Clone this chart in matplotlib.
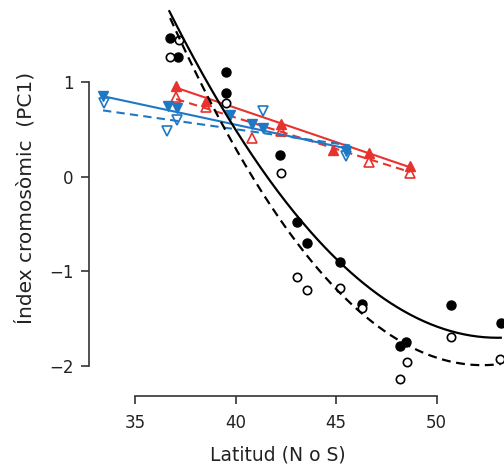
import numpy as np
from matplotlib import pyplot as plt

plt.rcParams["font.family"] = ["DejaVu Sans"]

# 黑色圆点（实心 / 空心）
black_filled_lat = [36.74, 37.14, 39.53, 39.53, 42.2, 43.06, 43.56, 45.2, 46.3, 48.2, 48.5, 50.7, 53.2]
black_filled_val = [1.46, 1.26, 1.11, 0.88, 0.23, -0.48, -0.70, -0.90, -1.34, -1.79, -1.75, -1.35, -1.54]
black_open_lat = [36.71, 37.19, 39.53, 42.25, 43.04, 43.57, 45.2, 46.31, 48.52, 48.18, 50.71, 53.16]
black_open_val = [1.26, 1.44, 0.78, 0.04, -1.06, -1.20, -1.17, -1.39, -1.96, -2.14, -1.69, -1.92]

# 黑色拟合曲线上读出的点
black_solid_lat = [36.7, 42.38, 43.04, 45.2, 48.18, 52.3, 53.2]
black_solid_val = [1.74, -0.21, -0.42, -0.88, -1.44, -1.69, -1.69]
black_dash_lat = [36.74, 40.87, 41.37, 43.2, 46.2, 49.0, 52.0, 53.2]
black_dash_val = [1.69, -0.03, -0.21, -0.74, -1.37, -1.85, -2.0, -1.97]

# 红色三角
red_filled_lat = [37.04, 38.53, 42.26, 44.83, 46.64, 48.68]
red_filled_val = [0.96, 0.80, 0.56, 0.28, 0.25, 0.11]
red_open_lat = [37.04, 38.53, 40.8, 42.26, 46.64, 48.68]
red_open_val = [0.84, 0.74, 0.41, 0.48, 0.16, 0.04]
red_line_lat = [37.04, 48.68]
red_solid_val = [0.94, 0.10]
red_dash_val = [0.82, 0.05]

# 蓝色倒三角
blue_filled_lat = [33.42, 36.62, 37.1, 39.73, 40.8, 41.38, 45.5]
blue_filled_val = [0.85, 0.75, 0.73, 0.65, 0.56, 0.51, 0.27]
blue_open_lat = [33.46, 36.6, 37.1, 41.38, 45.5]
blue_open_val = [0.78, 0.48, 0.60, 0.69, 0.22]
blue_line_lat = [33.4, 45.7]
blue_solid_val = [0.85, 0.29]
blue_dash_val = [0.70, 0.33]

x_ticks = [35, 40, 45, 50]
y_ticks = [-2, -1, 0, 1]

red = "#e8322e"
blue = "#1f78c4"

fig = plt.figure(figsize=(5.04, 4.65), dpi=100)
ax = fig.add_axes([95 / 504, 1 - 386 / 465, 409 / 504, 386 / 465])

# 黑色二次曲线
for lat, val, ls in [(black_solid_lat, black_solid_val, "-"), (black_dash_lat, black_dash_val, "--")]:
    coef = np.polyfit(lat, val, 2)
    xs = np.linspace(min(lat), max(lat), 200)
    line, = ax.plot(xs, np.polyval(coef, xs), color="black", lw=1.6, ls=ls, zorder=4)
    if ls == "--":
        line.set_dashes((4, 2.5))

# 红蓝直线
ax.plot(red_line_lat, red_solid_val, color=red, lw=1.5, zorder=2)
ax.plot(red_line_lat, red_dash_val, color=red, lw=1.5, dashes=(4, 2.5), zorder=2)
ax.plot(blue_line_lat, blue_solid_val, color=blue, lw=1.5, zorder=2)
ax.plot(blue_line_lat, blue_dash_val, color=blue, lw=1.5, dashes=(4, 2.5), zorder=2)

# 散点
ax.plot(black_filled_lat, black_filled_val, "o", color="black", ms=6.5, zorder=3, clip_on=False)
ax.plot(black_open_lat, black_open_val, "o", mfc="white", mec="black", mew=1.2, ms=6, zorder=3, clip_on=False)
ax.plot(red_filled_lat, red_filled_val, "^", color=red, ms=7.5, zorder=3)
ax.plot(red_open_lat, red_open_val, "^", mfc="none", mec=red, mew=1.2, ms=7, zorder=3)
ax.plot(blue_filled_lat, blue_filled_val, "v", color=blue, ms=7.5, zorder=3)
ax.plot(blue_open_lat, blue_open_val, "v", mfc="none", mec=blue, mew=1.2, ms=7, zorder=3)

ax.set_xlim(33.0, 53.36)
ax.set_ylim(-2.21, 1.866)

# R 风格坐标轴
for s in ["top", "right"]:
    ax.spines[s].set_visible(False)
ax.spines["left"].set_position(("outward", 4.3))
ax.spines["bottom"].set_position(("outward", 7))
ax.spines["left"].set_bounds(-2, 1)
ax.spines["bottom"].set_bounds(35, 50)
for s in ["left", "bottom"]:
    ax.spines[s].set_color("#333333")
    ax.spines[s].set_linewidth(1.2)

ax.set_xticks(x_ticks)
ax.set_yticks(y_ticks)
ax.set_yticklabels(["\u22122", "\u22121", "0", "1"])
ax.tick_params(axis="both", length=6, width=1.2, color="#333333", labelsize=12, labelcolor="#222222")
ax.tick_params(axis="x", pad=7)
ax.tick_params(axis="y", pad=5)

ax.set_xlabel("Latitud (N o S)", fontsize=13.5, color="#222222")
ax.xaxis.set_label_coords(0.447, -0.155)
ax.set_ylabel("Índex cromosòmic  (PC1)", fontsize=14.5, color="#222222")
ax.yaxis.set_label_coords(-0.145, 0.487)

plt.savefig("out.png", dpi=100)
plt.close()
